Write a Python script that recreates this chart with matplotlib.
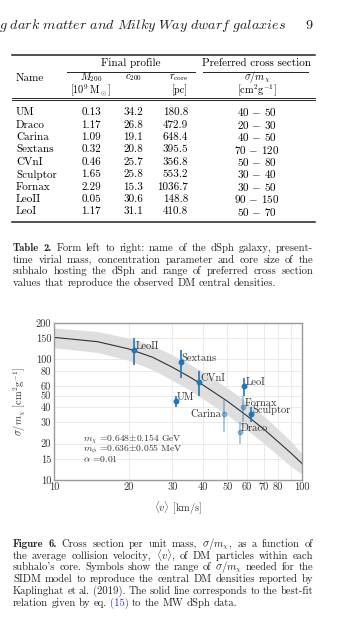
import matplotlib
matplotlib.use("Agg")
import matplotlib.pyplot as plt
from matplotlib.lines import Line2D
import numpy as np

plt.rcParams['font.family'] = 'cmr10'
plt.rcParams['mathtext.fontset'] = 'cm'
plt.rcParams['axes.formatter.use_mathtext'] = True
plt.rcParams['axes.unicode_minus'] = False

W, H = 351, 633

# ---- table 2 values
names = ["UM", "Draco", "Carina", "Sextans", "CVnI", "Sculptor", "Fornax", "LeoII", "LeoI"]
m200 = ["0.13", "1.17", "1.09", "0.32", "0.46", "1.65", "2.29", "0.05", "1.17"]
c200 = ["34.2", "26.8", "19.1", "20.8", "25.7", "25.8", "15.3", "30.6", "31.1"]
rcore = ["180.8", "472.9", "648.4", "395.5", "356.8", "553.2", "1036.7", "148.8", "410.8"]
xsec_lo = [40, 20, 40, 70, 50, 30, 30, 90, 50]
xsec_hi = [50, 30, 50, 120, 80, 40, 50, 150, 70]

# ---- figure 6 values
gal = ["UM", "Draco", "Carina", "Sextans", "CVnI", "Sculptor", "Fornax", "LeoII", "LeoI"]
v_mean = [31.0, 56.2, 48.3, 32.4, 38.4, 62.5, 58.0, 21.1, 58.5]
sig_mid = [45, 25, 35, 95, 64.5, 35, 40, 120, 60]
sig_lo = [40, 20, 25, 70, 50, 30, 30, 90, 50]
sig_hi = [50, 30, 46, 120, 80, 40, 50, 150, 70]
faint = ["Draco", "Carina", "Fornax"]

fit_v = [10, 15, 20, 25, 30, 35, 40, 50, 60, 70, 80, 90, 100]
fit_mid = [152, 140, 122, 104, 86, 72, 61, 45, 34, 26.5, 20.8, 16.8, 13.7]
fit_up = [182, 170, 150, 130, 109, 92, 78, 58, 44, 34, 26.5, 21, 16.5]
fit_low = [125, 114, 98, 82, 67, 56, 47, 34.5, 26, 20.2, 16, 13, 11.2]

xticks = [10, 20, 30, 40, 50, 60, 70, 80, 90, 100]
xtick_labels = ["10", "20", "30", "40", "50", "60", "70", "80", "", "100"]
yticks = [10, 15, 20, 30, 40, 50, 60, 80, 100, 150, 200]

table_caption = [
    "Table 2. Form left to right: name of the dSph galaxy, present-",
    "time virial mass, concentration parameter and core size of the",
    "subhalo hosting the dSph and range of preferred cross section",
    "values that reproduce the observed DM central densities.",
]
fig_caption = [
    r"Figure 6. Cross section per unit mass, $\sigma/m_\chi$, as a function of",
    r"the average collision velocity, $\langle{v}\rangle$, of DM particles within each",
    r"subhalo's core. Symbols show the range of $\sigma/m_\chi$ needed for the",
    "SIDM model to reproduce the central DM densities reported by",
    "Kaplinghat et al. (2019). The solid line corresponds to the best-fit",
    "relation given by eq. (15) to the MW dSph data.",
]


def fx(x):
    return x / W


def fy(y):
    return 1 - y / H


def hline(fig, y, x0, x1, lw=0.8):
    fig.add_artist(Line2D([fx(x0), fx(x1)], [fy(y), fy(y)], transform=fig.transFigure,
                          color="#222222", lw=lw))


def put_line(fig, y, line, x0, x1, size, justify=True, nbold=0):
    r = fig.canvas.get_renderer()
    words = line.split(" ")
    arts = []
    for i, w in enumerate(words):
        fam = "cmb10" if i < nbold else "cmr10"
        col = "#2b35d9" if w == "(15)" else "#222222"
        arts.append(fig.text(0, fy(y), w, fontsize=size, family=fam, color=col, va="baseline"))
    widths = [a.get_window_extent(r).width for a in arts]
    gap = size * 1.389 * 0.3
    if justify:
        gap = max((x1 - x0 - sum(widths)) / (len(words) - 1), 1.5)
    x = x0
    for a, w in zip(arts, widths):
        a.set_x(fx(x))
        x += w + gap


fig = plt.figure(figsize=(W / 100, H / 100), dpi=100)

# running header
fig.text(fx(-1), fy(29), r"$\mathit{g\ dark\ matter\ and\ Milky\ Way\ dwarf\ galaxies}$",
         fontsize=10.2, va="baseline", color="#222222")
fig.text(fx(313), fy(29), "9", fontsize=10.2, va="baseline", ha="right", color="#222222")

# ---- table
ts = 8.0
hs = 7.4
hline(fig, 55, 12, 315, 1.1)
fig.text(fx(131), fy(63.5), "Final profile", fontsize=ts, ha="center", va="center")
fig.text(fx(256), fy(63.5), "Preferred cross section", fontsize=ts, ha="center", va="center")
hline(fig, 71.5, 67, 195, 0.7)
hline(fig, 71.5, 203, 308, 0.7)
fig.text(fx(16), fy(78), "Name", fontsize=ts, va="center")
fig.text(fx(91), fy(77.5), r"$M_{200}$", fontsize=hs, ha="center", va="center")
fig.text(fx(91), fy(90.5), r"[$10^9\,\mathrm{M}_\odot$]", fontsize=hs, ha="center", va="center")
fig.text(fx(133), fy(77.5), r"$c_{200}$", fontsize=hs, ha="center", va="center")
fig.text(fx(188), fy(77.5), r"$r_\mathrm{core}$", fontsize=hs, ha="right", va="center")
fig.text(fx(188), fy(90.5), "[pc]", fontsize=hs, ha="right", va="center")
fig.text(fx(257), fy(77.5), r"$\sigma/m_\chi$", fontsize=hs, ha="center", va="center")
fig.text(fx(257), fy(90.5), r"[cm$^2$g$^{-1}$]", fontsize=hs, ha="center", va="center")
hline(fig, 97.5, 12, 315, 0.7)
hline(fig, 100, 12, 315, 0.7)
for i in range(len(names)):
    y = 112.5 + i * 12.4
    fig.text(fx(16), fy(y), names[i], fontsize=ts, va="center")
    fig.text(fx(91), fy(y), m200[i], fontsize=ts, va="center", ha="center")
    fig.text(fx(133), fy(y), c200[i], fontsize=ts, va="center", ha="center")
    fig.text(fx(188), fy(y), rcore[i], fontsize=ts, va="center", ha="right")
    fig.text(fx(257), fy(y), "%d $-$ %d" % (xsec_lo[i], xsec_hi[i]), fontsize=ts,
             va="center", ha="center")
hline(fig, 222, 12, 315, 1.1)

cs = 7.7
for i, line in enumerate(table_caption):
    put_line(fig, 251 + i * 11.7, line, 13, 313, cs,
             justify=(i < len(table_caption) - 1), nbold=2 if i == 0 else 0)

# ---- figure 6 chart
ax = fig.add_axes([fx(54), fy(480), 248 / W, 157 / H])
ax.set_xscale("log")
ax.set_yscale("log")
ax.fill_between(fit_v, fit_low, fit_up, color="#dedede", lw=0, zorder=1)
ax.plot(fit_v, fit_mid, color="#333333", lw=0.8, zorder=2)

offsets = {"Carina": (-2, 0, "right")}
for i, g in enumerate(gal):
    a = 0.45 if g in faint else 1.0
    ax.errorbar(v_mean[i], sig_mid[i],
                yerr=[[sig_mid[i] - sig_lo[i]], [sig_hi[i] - sig_mid[i]]],
                fmt="o", ms=3.2, color="#1f77b4", ecolor="#1f77b4", elinewidth=1.2,
                alpha=a, zorder=3)
    dx, dy, ha = offsets.get(g, (1, 4, "left"))
    ax.annotate(g, (v_mean[i], sig_mid[i]), xytext=(dx, dy), textcoords="offset pixels",
                ha=ha, va="center", fontsize=7.5, color="#333333", zorder=4)

ax.text(0.116, 0.258, r"$m_\chi$ =0.648$\pm$0.154 GeV", transform=ax.transAxes,
        fontsize=6.9, va="center", color="#333333")
ax.text(0.116, 0.196, r"$m_\phi$ =0.636$\pm$0.055 MeV", transform=ax.transAxes,
        fontsize=6.9, va="center", color="#333333")
ax.text(0.116, 0.134, r"$\alpha$ =0.01", transform=ax.transAxes,
        fontsize=6.9, va="center", color="#333333")

ax.set_xlim(10, 100)
ax.set_ylim(10, 200)
ax.set_xticks(xticks)
ax.set_xticklabels(xtick_labels)
ax.set_yticks(yticks)
ax.set_yticklabels([str(t) for t in yticks])
ax.minorticks_off()
ax.tick_params(length=0, pad=2, labelsize=7.5, labelcolor="#333333")
ax.grid(True, color="#e6e6e6", lw=0.6)
ax.set_axisbelow(True)
for s in ax.spines.values():
    s.set_color("#999999")
    s.set_linewidth(1.0)
ax.set_ylabel(r"$\sigma/m_\chi$ [cm$^2$g$^{-1}$]", fontsize=7.5, color="#333333")
ax.yaxis.set_label_coords(-0.105, 0.5)
ax.set_xlabel(r"$\langle{v}\rangle$ [km/s]", fontsize=7.5, color="#333333")
ax.xaxis.set_label_coords(0.5, -0.125)

for i, line in enumerate(fig_caption):
    put_line(fig, 547 + i * 11.7, line, 13, 313, cs,
             justify=(i < len(fig_caption) - 1), nbold=2 if i == 0 else 0)

fig.savefig("out.png", dpi=100)
